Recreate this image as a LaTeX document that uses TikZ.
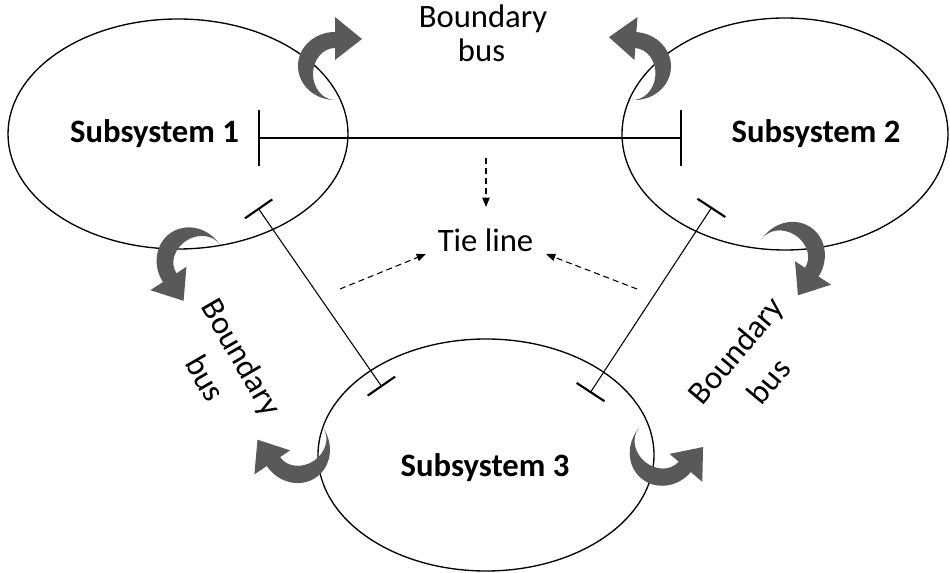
\documentclass[tikz,border=0pt]{standalone}
\usepackage{fontspec}
\setmainfont{Carlito}
\usetikzlibrary{arrows.meta}

\definecolor{arrowgray}{RGB}{89,89,89}

\tikzset{
  % thick curved arrow: tail at the bottom, bends round the left, head points right
  curlarrow/.pic={
    \fill[arrowgray] (0,34) -- (0,49) -- (27,27) -- (0,6) -- (0,18)
      arc[start angle=90, end angle=270, x radius=22, y radius=26]
      arc[start angle=270, end angle=90, x radius=37, y radius=34] -- cycle;
  },
  subsys/.style={draw=black, line width=1pt},
  label/.style={inner sep=0pt, font=\fontsize{24.5}{30}\selectfont},
  syslabel/.style={label, font=\fontsize{24.5}{30}\selectfont\bfseries},
  tieline/.style={line width=0.8pt, {Bar[width=42pt,line width=1.6pt]}-{Bar[width=42pt,line width=1.6pt]}},
  branch/.style={line width=0.8pt, {Bar[width=25pt,line width=1.6pt]}-{Bar[width=25pt,line width=1.6pt]}},
  hint/.style={line width=0.8pt, dash pattern=on 4.5pt off 3pt, -{Triangle[length=7pt,width=5.5pt]}},
}

\begin{document}
\begin{tikzpicture}[x=0.75pt, y=0.75pt]
  \path[use as bounding box] (0,0) rectangle (950,-573);

  % the three subsystems
  \draw[subsys] (178,-134) ellipse [x radius=170, y radius=115];
  \draw[subsys] (785,-134) ellipse [x radius=163, y radius=116];
  \draw[subsys] (486,-455) ellipse [x radius=168, y radius=116];

  \node[syslabel, anchor=base] (s1) at (154.5,-143) {Subsystem 1};
  \node[syslabel, anchor=base] (s2) at (816,-143) {Subsystem 2};
  \node[syslabel, anchor=base] (s3) at (485,-477) {Subsystem 3};

  % tie lines between the subsystems
  \coordinate (a1) at (258,-138);
  \coordinate (a2) at (682,-138);
  \coordinate (b1) at (258,-208);
  \coordinate (b3) at (382,-387);
  \coordinate (c2) at (712,-207);
  \coordinate (c3) at (590,-393);
  \draw[tieline] (a1) -- (a2);
  \draw[branch] (b1) -- (b3);
  \draw[branch] (c2) -- (c3);

  % tie line label with its pointers
  \node[label, anchor=base] (tie) at (485.5,-252) {Tie line};
  \coordinate (p1) at (486,-158);
  \coordinate (p2) at (340,-289);
  \coordinate (p3) at (637,-289);
  \draw[hint] (p1) -- (486,-207) coordinate (q1);
  \draw[hint] (p2) -- (426,-254) coordinate (q2);
  \draw[hint] (p3) -- (546,-254) coordinate (q3);

  % boundary bus labels
  \node[label, anchor=base] (bb1) at (483,-28) {Boundary};
  \node[label, anchor=base] (bb2) at (481.5,-62) {bus};
  \node[label, rotate=-60] (bl1) at (240,-358) {Boundary};
  \node[label, rotate=-60] (bl2) at (205.5,-378) {bus};
  \node[label, rotate=50] (br1) at (737.5,-351.5) {Boundary};
  \node[label, rotate=50] (br2) at (768.5,-381) {bus};

  % curved boundary arrows
  \pic[shift={(335,-66)}] {curlarrow};
  \pic[shift={(634,-66)}, rotate=-4, xscale=-1] {curlarrow};
  \pic[shift={(191.5,-263.5)}, rotate=123, xscale=-1] {curlarrow};
  \pic[shift={(790,-258)}, rotate=-123] {curlarrow};
  \pic[shift={(295,-447)}, rotate=124] {curlarrow};
  \pic[shift={(665,-450)}, rotate=-130.5, xscale=-1] {curlarrow};
\end{tikzpicture}
\end{document}
